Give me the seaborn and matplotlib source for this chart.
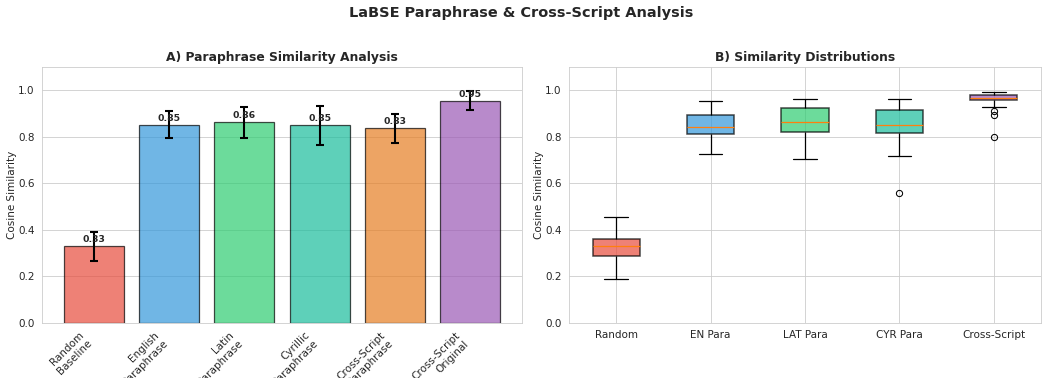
import matplotlib
matplotlib.use("Agg")
import matplotlib.pyplot as plt
import numpy as np
import pandas as pd
import seaborn as sns

# Panel A: mean cosine similarity and standard deviation per condition
bar_labels = ["Random\nBaseline", "English\nParaphrase", "Latin\nParaphrase",
              "Cyrillic\nParaphrase", "Cross-Script\nParaphrase", "Cross-Script\nOriginal"]
bar_means = [0.328, 0.851, 0.862, 0.848, 0.835, 0.954]
bar_stds = [0.063, 0.059, 0.066, 0.082, 0.061, 0.040]
bar_colors = ["#e74c3c", "#3498db", "#2ecc71", "#1abc9c", "#e67e22", "#9b59b6"]

# Panel B: per-pair similarity samples
box_labels = ["Random", "EN Para", "LAT Para", "CYR Para", "Cross-Script"]
random_sims = [0.190, 0.240, 0.270, 0.286, 0.300, 0.315, 0.328, 0.340, 0.352, 0.362, 0.390, 0.420, 0.455]
en_sims = [0.724, 0.770, 0.800, 0.813, 0.822, 0.833, 0.843, 0.860, 0.880, 0.895, 0.910, 0.930, 0.955]
lat_sims = [0.704, 0.760, 0.800, 0.822, 0.835, 0.850, 0.865, 0.885, 0.905, 0.924, 0.940, 0.950, 0.963]
cyr_sims = [0.556, 0.718, 0.780, 0.815, 0.825, 0.838, 0.849, 0.870, 0.895, 0.915, 0.935, 0.950, 0.963]
cross_sims = [0.797, 0.895, 0.911, 0.928, 0.957, 0.960, 0.963, 0.966, 0.968, 0.972, 0.975,
              0.978, 0.981, 0.984, 0.987, 0.989, 0.991]
box_colors = ["#e74c3c", "#3498db", "#2ecc71", "#1abc9c", "#9b59b6"]

sns.set_style("whitegrid")
plt.rcParams["font.family"] = ["DejaVu Sans"]

fig = plt.figure(figsize=(14, 5.08), dpi=1042 / 14)
ax1 = fig.add_axes([0.0403, 0.146, 0.4607, 0.677])
ax2 = fig.add_axes([0.546, 0.146, 0.453, 0.677])

# --- A) bars with error bars ---
bar_df = pd.DataFrame({"cond": bar_labels, "mean": bar_means})
sns.barplot(data=bar_df, x="cond", y="mean", hue="cond", palette=bar_colors,
            legend=False, saturation=1, alpha=0.7, edgecolor="black",
            linewidth=1.2, width=0.8, ax=ax1)
xs = np.arange(len(bar_labels))
ax1.errorbar(xs, bar_means, yerr=bar_stds, fmt="none", ecolor="black",
             elinewidth=2, capsize=4, capthick=2, zorder=5)
for x, m in zip(xs, bar_means):
    ax1.text(x, m + 0.01, f"{m:.2f}", ha="center", va="bottom",
             fontsize=9, fontweight="bold", zorder=6)
ax1.set_xlim(-0.69, 5.69)
ax1.set_ylim(0, 1.1)
ax1.set_xlabel("")
ax1.set_ylabel("Cosine Similarity", labelpad=1)
ax1.set_xticks(xs)
ax1.set_xticklabels(bar_labels, rotation=45, ha="right")
ax1.set_title("A) Paraphrase Similarity Analysis", fontsize=12, fontweight="bold")

# --- B) box plots ---
groups = [random_sims, en_sims, lat_sims, cyr_sims, cross_sims]
box_df = pd.DataFrame({
    "group": np.concatenate([[lab] * len(g) for lab, g in zip(box_labels, groups)]),
    "sim": np.concatenate(groups),
})
sns.boxplot(data=box_df, x="group", y="sim", hue="group", palette=box_colors,
            legend=False, saturation=1, width=0.5, linecolor="black",
            linewidth=1.2, ax=ax2,
            boxprops=dict(alpha=0.7, linewidth=1.5),
            medianprops=dict(color="#ff7f0e", linewidth=1.2),
            whiskerprops=dict(color="black", linewidth=1.2),
            capprops=dict(color="black", linewidth=1.2),
            flierprops=dict(marker="o", markerfacecolor="none",
                            markeredgecolor="black", markersize=6))
ax2.set_xlim(-0.5, 4.5)
ax2.set_ylim(0, 1.1)
ax2.set_xlabel("")
ax2.set_ylabel("Cosine Similarity", labelpad=1)
ax2.set_title("B) Similarity Distributions", fontsize=12, fontweight="bold")
ax2.grid(True, axis="x")

fig.suptitle("LaBSE Paraphrase & Cross-Script Analysis", fontsize=14,
             fontweight="bold", y=0.985)

fig.savefig("out.png", dpi=1042 / 14)
